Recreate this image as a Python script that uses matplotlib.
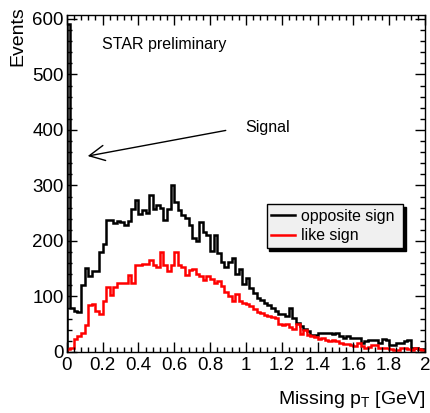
import numpy as np
import matplotlib
matplotlib.use('Agg')
import matplotlib.pyplot as plt

# --- Data (100 bins of 0.02 GeV) ---
bin_edges = np.linspace(0.0, 2.0, 101)

opposite_sign = [
    590, 80, 74, 72, 121, 152, 137, 145, 145, 181,
    195, 238, 237, 232, 236, 234, 229, 236, 258, 274,
    249, 255, 250, 282, 258, 265, 259, 238, 257, 301,
    271, 255, 247, 242, 229, 205, 200, 235, 217, 211,
    182, 211, 178, 163, 154, 163, 169, 140, 150, 122,
    133, 115, 107, 98, 94, 88, 84, 80, 73, 69,
    68, 65, 80, 62, 52, 46, 42, 37, 31, 31,
    35, 35, 35, 35, 32, 34, 29, 25, 28, 26,
    26, 26, 16, 19, 22, 22, 22, 16, 23, 22,
    13, 13, 17, 17, 20, 22, 7, 7, 5, 5]

like_sign = [
    5, 8, 23, 29, 34, 49, 85, 86, 73, 68,
    91, 117, 103, 117, 124, 124, 124, 139, 124, 157,
    157, 159, 159, 165, 157, 154, 181, 157, 145, 157,
    181, 157, 154, 139, 148, 150, 140, 136, 130, 136,
    131, 125, 128, 118, 108, 100, 92, 105, 92, 88,
    86, 82, 78, 72, 70, 67, 65, 63, 62, 51,
    48, 50, 45, 42, 50, 32, 40, 31, 28, 27,
    24, 25, 21, 20, 22, 19, 17, 14, 15, 13,
    11, 16, 11, 8, 9, 13, 12, 8, 8, 8,
    5, 4, 4, 7, 8, 5, 4, 7, 5, 4]

x_ticks = [0, 0.2, 0.4, 0.6, 0.8, 1, 1.2, 1.4, 1.6, 1.8, 2]
x_tick_labels = ['0', '0.2', '0.4', '0.6', '0.8', '1', '1.2', '1.4', '1.6', '1.8', '2']
y_ticks = [0, 100, 200, 300, 400, 500, 600]

# --- Style ---
plt.rcParams['font.family'] = ['Liberation Sans', 'DejaVu Sans']
plt.rcParams['mathtext.fontset'] = 'custom'
plt.rcParams['mathtext.rm'] = 'Liberation Sans'
plt.rcParams['mathtext.it'] = 'Liberation Sans'

W, H = 431, 413
fig = plt.figure(figsize=(W / 100, H / 100), dpi=100)
left, right, bottom, top = 66.7, 425.0, 352.0, 15.0
ax = fig.add_axes([left / W, 1 - bottom / H, (right - left) / W, (bottom - top) / H])

# --- Histograms ---
ax.stairs(opposite_sign, bin_edges, color='black', linewidth=1.8, label='opposite sign')
ax.stairs(like_sign, bin_edges, color='red', linewidth=1.8, label='like sign')

ax.set_xlim(0, 2)
ax.set_ylim(0, 607)

# --- Axes, ticks ---
ax.set_xticks(x_ticks)
ax.set_xticklabels(x_tick_labels)
ax.set_yticks(y_ticks)
ax.set_xticks(np.arange(0, 2.001, 0.04), minor=True)
ax.set_yticks(np.arange(0, 607, 20), minor=True)
ax.tick_params(which='both', direction='in', top=True, right=True, width=1)
ax.tick_params(which='major', length=7.2, labelsize=13.5)
ax.tick_params(which='minor', length=3.6)
ax.tick_params(axis='x', pad=3.5)
ax.tick_params(axis='y', pad=2)
for s in ax.spines.values():
    s.set_linewidth(1)

fig.text(17.5 / W, 1 - 6 / H, 'Events', rotation=90, ha='center', va='top', fontsize=14)
fig.text(425 / W, 1 - 404 / H, r'Missing p$_{\mathrm{T}}$ [GeV]', ha='right', va='baseline', fontsize=14)

# --- Annotations ---
ax.text(0.197, 553, 'STAR preliminary', fontsize=11.5, va='center', ha='left')
ax.text(0.996, 404, 'Signal', fontsize=11.5, va='center', ha='left')
ax.annotate('', xy=(0.102, 352), xytext=(0.903, 400),
            arrowprops=dict(arrowstyle='->,head_length=1.1,head_width=0.55', color='black', lw=1))

# --- Legend with ROOT-like shadow ---
leg = ax.legend(loc='center', bbox_to_anchor=(0.558, 0.309, 0.381, 0.130), mode='expand',
                fontsize=11.4, frameon=True, fancybox=False, framealpha=1,
                facecolor='#f0f0f0', edgecolor='black', borderpad=0.3, borderaxespad=0,
                handlelength=1.5, handletextpad=0.4, labelspacing=0.3,
                shadow={'color': 'black', 'alpha': 1})
leg.get_frame().set_linewidth(1)

plt.savefig('out.png', dpi=100)
